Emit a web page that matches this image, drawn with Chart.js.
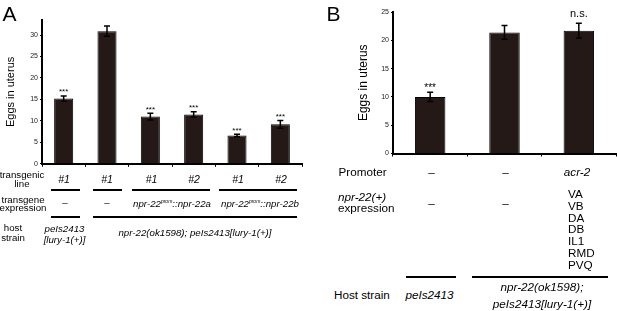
<!DOCTYPE html>
<html><head><meta charset="utf-8">
<script src="https://cdn.jsdelivr.net/npm/chart.js@4/dist/chart.umd.min.js"></script>
<style>
html,body{margin:0;padding:0;background:#fff;}
#root{position:relative;width:617px;height:311px;overflow:hidden;font-family:"Liberation Sans",Arial,sans-serif;color:#000;}
canvas{position:absolute;}
.t{position:absolute;white-space:nowrap;line-height:1;}
.c{transform:translate(-50%,-50%);text-align:center;}
.l{transform:translate(0,-50%);}
.i{font-style:italic;}
.a{font-size:9.7px;}
.b{font-size:11.7px;}
.hl{position:absolute;height:1.6px;background:#000;}
.sp{font-size:5px;position:relative;top:-3.5px;}
</style></head>
<body>
<div id="root">
  <canvas id="cA" width="305" height="170" style="left:0;top:0;width:305px;height:170px"></canvas>
  <canvas id="cB" width="277" height="162" style="left:340px;top:0;width:277px;height:162px"></canvas>

  <div class="t c" style="left:9.5px;top:12.5px;font-size:21px">A</div>
  <div class="t c" style="left:333.5px;top:13px;font-size:21px">B</div>

  <!-- Panel A table -->
  <div class="t c a" style="left:22px;top:178.5px;line-height:9px">transgenic<br>line</div>
  <div class="t c a i" style="left:64px;top:179px;font-size:10.5px">#1</div>
  <div class="t c a i" style="left:107px;top:179px;font-size:10.5px">#1</div>
  <div class="t c a i" style="left:151.5px;top:179px;font-size:10.5px">#1</div>
  <div class="t c a i" style="left:194px;top:179px;font-size:10.5px">#2</div>
  <div class="t c a i" style="left:238px;top:179px;font-size:10.5px">#1</div>
  <div class="t c a i" style="left:281px;top:179px;font-size:10.5px">#2</div>
  <div class="hl" style="left:51px;width:29px;top:189px"></div>
  <div class="hl" style="left:93px;width:29px;top:189px"></div>
  <div class="hl" style="left:132px;width:78px;top:189px"></div>
  <div class="hl" style="left:219px;width:78px;top:189px"></div>

  <div class="t c a" style="left:23px;top:203.5px;line-height:8.5px">transgene<br>expression</div>
  <div class="t c a" style="left:65px;top:203px">–</div>
  <div class="t c a" style="left:107px;top:203px">–</div>
  <div class="t c a i" style="left:172px;top:203.5px">npr-22<span class="sp">prom</span>::npr-22a</div>
  <div class="t c a i" style="left:260px;top:203.5px">npr-22<span class="sp">prom</span>::npr-22b</div>
  <div class="hl" style="left:51px;width:29px;top:216px"></div>
  <div class="hl" style="left:93px;width:204px;top:216px"></div>

  <div class="t c a" style="left:13px;top:233px;line-height:10px">host<br>strain</div>
  <div class="t c a i" style="left:64.5px;top:233.5px;line-height:11.5px">peIs2413<br>[lury-1(+)]</div>
  <div class="t c a i" style="left:195px;top:232.5px">npr-22(ok1598); peIs2413[lury-1(+)]</div>

  <!-- Panel B table -->
  <div class="t c b" style="left:362.5px;top:172px">Promoter</div>
  <div class="t c b" style="left:431.5px;top:172px">–</div>
  <div class="t c b" style="left:505.5px;top:172px">–</div>
  <div class="t c b i" style="left:577px;top:172px">acr-2</div>
  <div class="t l b" style="left:338px;top:202px;line-height:11px"><span class="i">npr-22(+)</span><br>expression</div>
  <div class="t c b" style="left:431.5px;top:203px">–</div>
  <div class="t c b" style="left:505.5px;top:203px">–</div>
  <div class="t l b" style="left:568px;top:229px;line-height:11.8px">VA<br>VB<br>DA<br>DB<br>IL1<br>RMD<br>PVQ</div>
  <div class="hl" style="left:405.5px;width:50px;top:275.5px;height:2px"></div>
  <div class="hl" style="left:472px;width:136px;top:275.5px;height:2px"></div>
  <div class="t l b" style="left:334px;top:295px">Host strain</div>
  <div class="t c b i" style="left:429.5px;top:295px">peIs2413</div>
  <div class="t c b i" style="left:542px;top:295px;line-height:16.5px">npr-22(ok1598);<br>peIs2413[lury-1(+)]</div>
</div>
<script>
// ---- Data ----
const categoriesA = ['#1', '#1', '#1', '#2', '#1', '#2'];
const valuesA = [15.2, 30.9, 11.0, 11.5, 6.6, 9.2];
const errorsA = [0.6, 1.2, 0.8, 0.6, 0.3, 0.9];
const sigA = ['***', '', '***', '***', '***', '***'];
const ticksA = [0, 5, 10, 15, 20, 25, 30];

const categoriesB = ['peIs2413', 'npr-22(ok1598)', 'acr-2'];
const valuesB = [10.0, 21.4, 21.7];
const errorsB = [0.8, 1.2, 1.3];
const sigB = ['***', '', 'n.s.'];
const ticksB = [0, 5, 10, 15, 20, 25];

Chart.defaults.font.family = '"Liberation Sans", Arial, sans-serif';
Chart.defaults.color = '#000';

const errPlugin = {
  id: 'err',
  afterDatasetsDraw(chart, args, o) {
    const ctx = chart.ctx;
    const meta = chart.getDatasetMeta(0);
    const ys = chart.scales.y;
    ctx.save();
    ctx.strokeStyle = '#000';
    ctx.lineWidth = o.lw;
    meta.data.forEach((bar, i) => {
      const v = o.values[i], e = o.errors[i];
      const yt = ys.getPixelForValue(v + e), yb = ys.getPixelForValue(v - e);
      ctx.beginPath();
      ctx.moveTo(bar.x, yt); ctx.lineTo(bar.x, yb);
      ctx.moveTo(bar.x - o.cap, yt); ctx.lineTo(bar.x + o.cap, yt);
      ctx.moveTo(bar.x - o.cap, yb); ctx.lineTo(bar.x + o.cap, yb);
      ctx.stroke();
      const s = o.sig[i];
      if (s) {
        ctx.fillStyle = '#000';
        ctx.font = (s === 'n.s.' ? o.nsFont : o.sigFont);
        ctx.textAlign = 'center';
        ctx.textBaseline = 'alphabetic';
        const m = ctx.measureText(s);
        const cy = yt - (s === 'n.s.' ? o.nsOff : o.off);
        ctx.fillText(s, bar.x, cy + (m.actualBoundingBoxAscent - m.actualBoundingBoxDescent) / 2);
      }
    });
    ctx.restore();
  }
};

function makeChart(id, cats, vals, errs, sig, ticks, cfg) {
  return new Chart(document.getElementById(id), {
    type: 'bar',
    data: {
      labels: cats,
      datasets: [{
        data: vals,
        backgroundColor: '#241916',
        borderColor: '#000',
        borderWidth: 1,
        barPercentage: cfg.barPct,
        categoryPercentage: 1
      }]
    },
    options: {
      responsive: false,
      animation: false,
      devicePixelRatio: 1,
      layout: { padding: cfg.padding },
      plugins: {
        legend: { display: false },
        tooltip: { enabled: false },
        err: {
          values: vals, errors: errs, sig: sig, lw: 1.5, cap: cfg.cap,
          sigFont: cfg.sigFont, nsFont: '11px "Liberation Sans", Arial, sans-serif',
          off: cfg.off, nsOff: cfg.nsOff
        }
      },
      scales: {
        x: {
          ticks: { display: false },
          grid: { offset: true, drawOnChartArea: false, drawTicks: true, tickLength: 3, color: '#000', lineWidth: 1 },
          border: { display: true, color: '#000', width: 2 },
          afterFit: s => { s.height = cfg.xh; }
        },
        y: {
          min: 0, max: cfg.max,
          afterBuildTicks: s => { s.ticks = ticks.map(v => ({ value: v })); },
          ticks: { font: { size: cfg.tickSize }, padding: 2, color: '#222' },
          grid: { drawOnChartArea: false, drawTicks: true, tickLength: 2, color: '#000', lineWidth: 1 },
          border: { display: true, color: '#000', width: 2 },
          title: { display: true, text: 'Eggs in uterus', font: { size: cfg.titleSize }, padding: { top: 4, bottom: 0 } },
          afterFit: s => { s.width = cfg.yw; }
        }
      }
    },
    plugins: [errPlugin]
  });
}

makeChart('cA', categoriesA, valuesA, errorsA, sigA, ticksA, {
  barPct: 0.44, padding: { top: 20, right: 3, left: 0, bottom: 0 }, cap: 3,
  sigFont: '8px "Liberation Sans", Arial, sans-serif', off: 5, nsOff: 9,
  xh: 6, yw: 42, max: 33.5, tickSize: 7, titleSize: 11
});
makeChart('cB', categoriesB, valuesB, errorsB, sigB, ticksB, {
  barPct: 0.41, padding: { top: 12, right: 1, left: 12, bottom: 0 }, cap: 3,
  sigFont: '10px "Liberation Sans", Arial, sans-serif', off: 7.7, nsOff: 9.3,
  xh: 8.5, yw: 41, max: 25, tickSize: 7, titleSize: 12
});
</script>
</body></html>
